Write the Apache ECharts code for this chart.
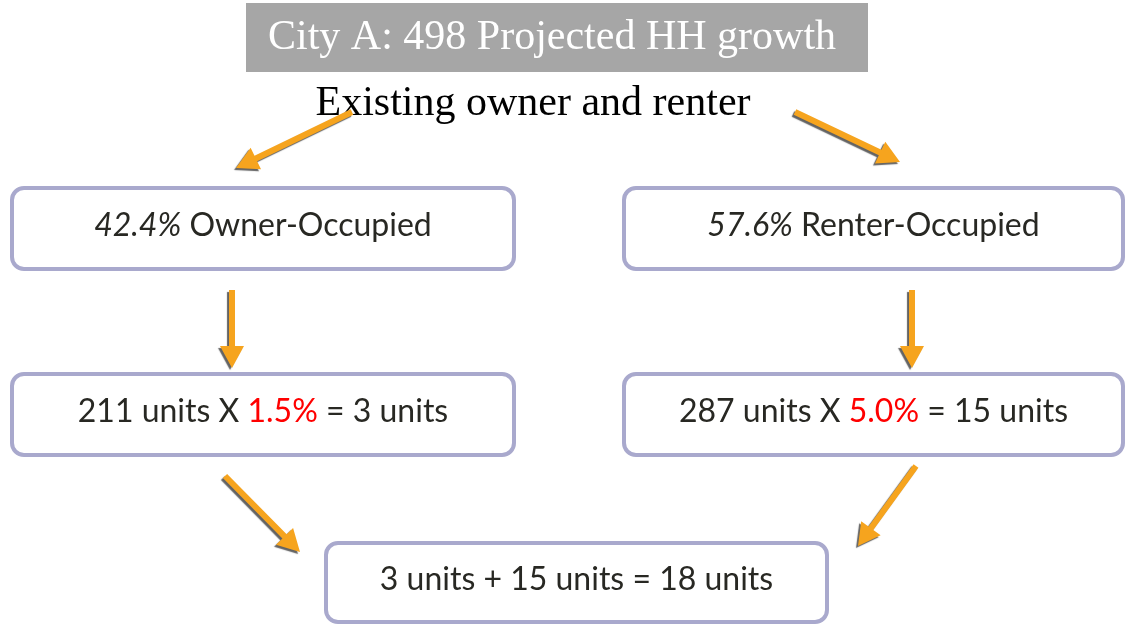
<!DOCTYPE html>
<html>
<head>
<meta charset="utf-8">
<script src="https://cdn.jsdelivr.net/npm/echarts@6/dist/echarts.min.js"></script>
<style>
  html, body { margin: 0; padding: 0; background: #fff; }
  #chart { width: 1125px; height: 625px; }
</style>
</head>
<body>
<div id="chart"></div>
<script>
// values
const cityName = 'City A';
const projectedGrowth = 498;
const tenureNames = ['Owner-Occupied', 'Renter-Occupied'];
const tenureShare = [42.4, 57.6];      // %
const tenureUnits = [211, 287];
const demandRate = [1.5, 5.0];         // %
const demandUnits = [3, 15];
const totalUnits = 18;

// layout (pixels)
const boxColor = '#a9a9cd';
const arrowColor = '#f6a41e';
const textColor = '#282823';
const boxFont = 'Lato, "Open Sans", sans-serif';

// [x, y, w, h] of each rounded box
const boxes = [
    [12, 188, 502, 81],
    [624, 188, 499, 81],
    [12, 374, 502, 81],
    [624, 374, 499, 81],
    [326, 543, 501, 79]
];
// [x1, y1, x2, y2] tail -> tip
const arrows = [
    [352, 112, 236, 168],
    [795, 112, 900, 162],
    [232, 290, 232, 368],
    [912, 290, 912, 368],
    [225, 476, 300, 552],
    [916, 466, 858, 546]
];

function arrowShape(a) {
    let x1 = a[0], y1 = a[1], x2 = a[2], y2 = a[3];
    let len = Math.hypot(x2 - x1, y2 - y1);
    let dx = (x2 - x1) / len, dy = (y2 - y1) / len;
    let nx = -dy, ny = dx;
    let s = 3, hw = 12, hl = 22;
    let bx = x2 - dx * hl, by = y2 - dy * hl;
    return [
        [x1 + nx * s, y1 + ny * s],
        [bx + nx * s, by + ny * s],
        [bx + nx * hw, by + ny * hw],
        [x2, y2],
        [bx - nx * hw, by - ny * hw],
        [bx - nx * s, by - ny * s],
        [x1 - nx * s, y1 - ny * s]
    ];
}

function fmt(v) {
    return v.toFixed(1) + '%';
}

let boxTexts = [
    '{i|' + fmt(tenureShare[0]) + '} ' + tenureNames[0],
    '{i|' + fmt(tenureShare[1]) + '} ' + tenureNames[1],
    tenureUnits[0] + ' units X {r|' + fmt(demandRate[0]) + '} = ' + demandUnits[0] + ' units',
    tenureUnits[1] + ' units X {r|' + fmt(demandRate[1]) + '} = ' + demandUnits[1] + ' units',
    demandUnits[0] + ' units + ' + demandUnits[1] + ' units = ' + totalUnits + ' units'
];

let graphic = [];

// title bar
graphic.push({
    type: 'rect',
    shape: { x: 246, y: 3, width: 622, height: 69 },
    style: { fill: '#a6a6a6' }
});
graphic.push({
    type: 'text',
    x: 552, y: 38,
    style: {
        text: cityName + ': ' + projectedGrowth + ' Projected HH growth',
        fill: '#fff',
        font: '42px "Liberation Serif", "Times New Roman", serif',
        align: 'center',
        verticalAlign: 'middle'
    }
});
graphic.push({
    type: 'text',
    x: 533, y: 104,
    style: {
        text: 'Existing owner and renter',
        fill: '#000',
        font: '42px "Liberation Serif", "Times New Roman", serif',
        align: 'center',
        verticalAlign: 'middle'
    }
});

boxes.forEach((b, i) => {
    graphic.push({
        type: 'rect',
        shape: { x: b[0], y: b[1], width: b[2], height: b[3], r: 12 },
        style: { fill: '#fff', stroke: boxColor, lineWidth: 4 }
    });
    graphic.push({
        type: 'text',
        x: b[0] + b[2] / 2, y: b[1] + b[3] / 2 - 3,
        style: {
            text: boxTexts[i],
            fill: textColor,
            fontFamily: boxFont,
            fontSize: 32,
            align: 'center',
            verticalAlign: 'middle',
            rich: {
                i: { fontStyle: 'italic', fontFamily: boxFont, fontSize: 32, fill: textColor },
                r: { fontFamily: boxFont, fontSize: 32, fill: '#ff0000' }
            }
        }
    });
});

arrows.forEach(a => {
    graphic.push({
        type: 'polygon',
        shape: { points: arrowShape(a) },
        style: {
            fill: arrowColor,
            shadowColor: 'rgba(60,60,60,0.8)',
            shadowOffsetX: -2,
            shadowOffsetY: 2,
            shadowBlur: 1
        }
    });
});

var myChart = echarts.init(document.getElementById('chart'));
myChart.setOption({
    backgroundColor: '#fff',
    animation: false,
    graphic: graphic
});
</script>
</body>
</html>
